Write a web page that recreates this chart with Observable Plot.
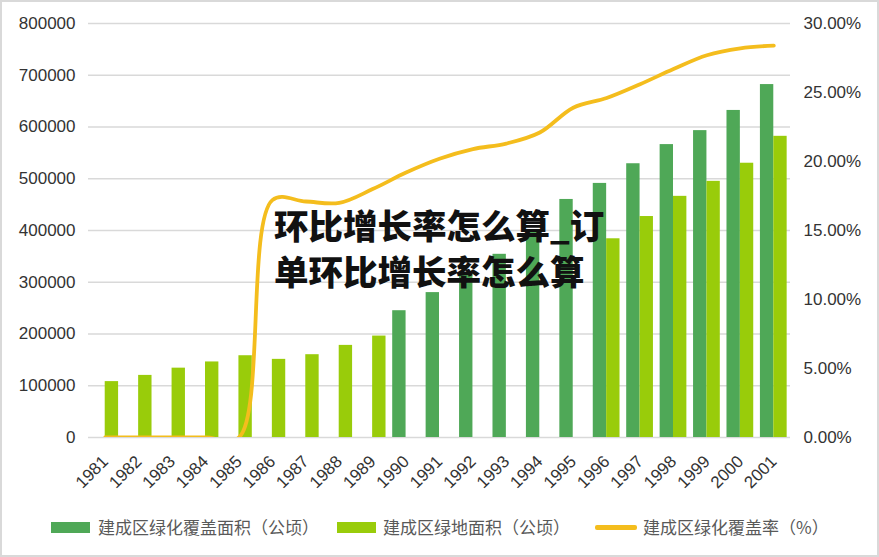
<!DOCTYPE html>
<html>
<head>
<meta charset="utf-8">
<script src="https://cdn.jsdelivr.net/npm/d3@7"></script>
<script src="https://cdn.jsdelivr.net/npm/@observablehq/plot@0.6"></script>
<style>
  html, body { margin: 0; padding: 0; background: #fff; }
  #wrap { position: relative; width: 879px; height: 557px; box-sizing: border-box; border: 2px solid #d9d9d9; background: #fff; overflow: hidden; }
  #chart svg { display: block; }
  #overlay { position: absolute; left: 272px; top: 199px; font-family: "Noto Sans CJK SC", sans-serif; font-weight: 900; font-size: 34.5px; line-height: 46px; color: #111; white-space: nowrap; }
  .lg { position: absolute; font-family: "Noto Sans CJK SC", sans-serif; font-size: 17px; color: #595959; line-height: 20px; white-space: nowrap; }
  .sw { position: absolute; }
</style>
</head>
<body>
<div id="wrap">
  <div id="chart"></div>
  <div id="overlay">环比增长率怎么算_订<br>单环比增长率怎么算</div>
  <div id="legend"></div>
</div>
<script>
const years = ["1981","1982","1983","1984","1985","1986","1987","1988","1989","1990","1991","1992","1993","1994","1995","1996","1997","1998","1999","2000","2001"];
const coverArea = [null,null,null,null,null,null,null,null,null,245000,280000,317000,354000,400000,460000,491000,529000,566000,593000,632000,682000];
const greenArea = [108000,120000,134000,146000,158000,151000,160000,178000,196000,null,null,null,null,null,null,384000,427000,466000,495000,530000,582000];
const coverRate = [0,0,0,0,0,17.2,17.1,17.0,18.0,19.2,20.2,20.9,21.3,22.1,23.9,24.6,25.6,26.7,27.7,28.2,28.4];
const leftTicks = [0,100000,200000,300000,400000,500000,600000,700000,800000];
const rightTicks = [0,5,10,15,20,25,30];
const seriesNames = ["建成区绿化覆盖面积（公顷）","建成区绿地面积（公顷）","建成区绿化覆盖率（%）"];
const colors = ["#4fa857","#99cc0a","#f4bd1d"];

const yMax = 800000, rateMax = 30;
const k = yMax / rateMax;

const data = years.map((y, i) => ({year: y, cover: coverArea[i], green: greenArea[i], rate: coverRate[i]}));

const W = 875, H = 500, mL = 86, mR = 87, mT = 21, mB = 65;
const step = (W - mL - mR) / years.length;
const half = step * 0.8 / 2;

const chart = Plot.plot({
  width: W, height: H,
  marginLeft: mL, marginRight: mR, marginTop: mT, marginBottom: mB,
  style: {fontFamily: "'Liberation Sans', Arial, sans-serif", fontSize: "17px", color: "#333", background: "#fff"},
  x: {type: "band", domain: years, paddingInner: 0.2, paddingOuter: 0.1, round: false, label: null, axis: null},
  y: {domain: [0, yMax], label: null},
  marks: [
    Plot.gridY(leftTicks, {stroke: "#d9d9d9", strokeOpacity: 1, strokeWidth: 1.5}),
    Plot.barY(data.filter(d => d.cover != null), {x: "year", y: "cover", fill: colors[0], insetRight: half}),
    Plot.barY(data.filter(d => d.green != null), {x: "year", y: "green", fill: colors[1], insetLeft: half}),
    Plot.line(data, {x: "year", y: d => d.rate * k, stroke: colors[2], strokeWidth: 3.8, curve: "catmull-rom", clip: true}),
    Plot.axisY(leftTicks, {anchor: "left", tickSize: 0, tickPadding: 13, tickFormat: d => String(d), fontSize: 17, fill: "#333"}),
    Plot.axisY(rightTicks.map(r => r * k), {anchor: "right", tickSize: 0, tickPadding: 13, tickFormat: v => (v / k).toFixed(2) + "%", fontSize: 17, fill: "#333"}),
    Plot.text(years, {x: d => d, text: d => d, frameAnchor: "bottom", rotate: -45, textAnchor: "end", dx: 4, dy: 25, fontSize: 17, fill: "#333"})
  ]
});
document.getElementById("chart").appendChild(chart);

// legend (HTML, below the SVG)
const legend = document.getElementById("legend");
const items = [
  {type: "rect", x: 49, w: 39, tx: 96},
  {type: "rect", x: 335, w: 39, tx: 381},
  {type: "line", x: 593, w: 42, tx: 641}
];
items.forEach((it, i) => {
  const sw = document.createElement("div");
  sw.className = "sw";
  sw.style.left = it.x + "px";
  sw.style.width = it.w + "px";
  sw.style.background = colors[i];
  if (it.type === "rect") { sw.style.top = "520px"; sw.style.height = "11px"; }
  else { sw.style.top = "523px"; sw.style.height = "5px"; sw.style.borderRadius = "2px"; }
  legend.appendChild(sw);
  const t = document.createElement("div");
  t.className = "lg";
  t.style.left = it.tx + "px";
  t.style.top = "515px";
  t.textContent = seriesNames[i];
  legend.appendChild(t);
});
</script>
</body>
</html>
